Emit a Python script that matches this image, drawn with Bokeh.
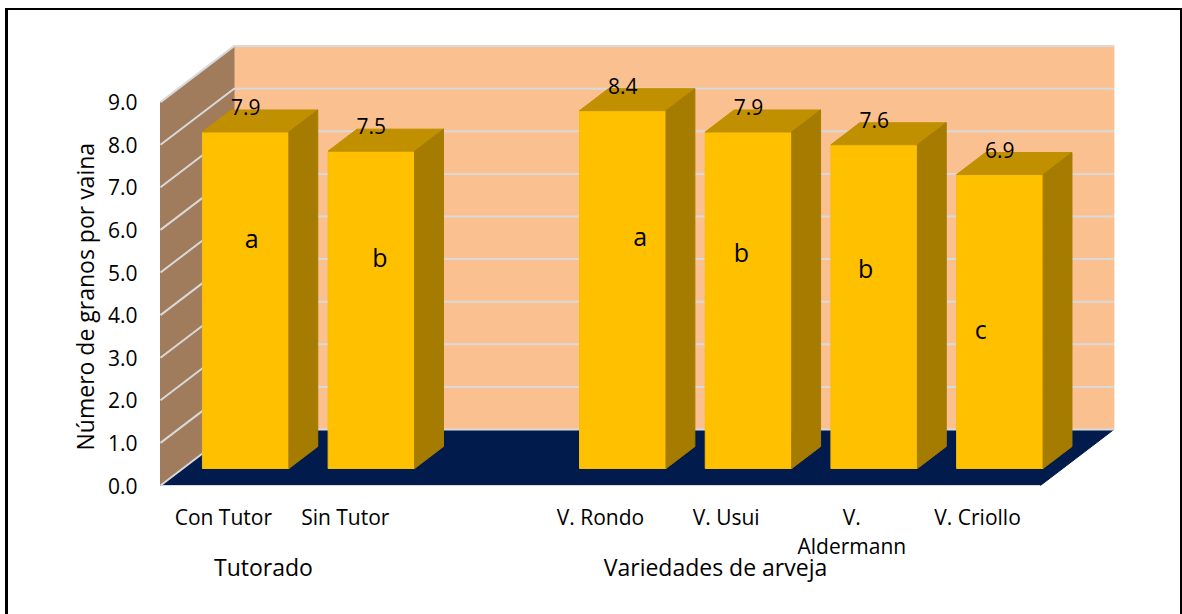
from bokeh.plotting import figure
from bokeh.embed import file_html
from bokeh.resources import INLINE
from bokeh.models import ColumnDataSource, FixedTicker, Range1d, LinearAxis, Title

categories = ["Con Tutor", "Sin Tutor", "V. Rondo", "V. Usui", "V.\nAldermann", "V. Criollo"]
category_slots = [0, 1, 3, 4, 5, 6]
values = [7.9, 7.45, 8.4, 7.9, 7.6, 6.9]
value_labels = ["7.9", "7.5", "8.4", "7.9", "7.6", "6.9"]
letters = ["a", "b", "a", "b", "b", "c"]
y_ticks = [0, 1, 2, 3, 4, 5, 6, 7, 8, 9]
groups = ["Tutorado", "Variedades de arveja"]
y_title = "Número de granos por vaina"

FONT = "Open Sans"
# layout, in pixels
ORG_X, ORG_Y = 8, 10
CW, CH = 1172, 604
X0, Y0 = 160, 485
SLOT_PX, UNIT_PX = 125.7, 42.6
SLOTS = 7
DX_PX, DY_PX = 73.5, 56
F_TOP, B_TOP = 44, 487
F_LEFT, F_RIGHT = 158, 1116
DEPTH_X = DX_PX / SLOT_PX
DEPTH_V = DY_PX / UNIT_PX
BAR_FRONT, BAR_BACK = 17 / 56, 39 / 56
HALF = 0.344
GROUP_CENTRES_PX = [263, 715]


def px(x, v, d):
    return x + d * DEPTH_X, v + d * DEPTH_V


p = figure(
    width=CW, height=CH, output_backend="svg", toolbar_location=None,
    frame_width=F_RIGHT - F_LEFT, frame_height=B_TOP - F_TOP,
    x_range=Range1d((F_LEFT - X0) / SLOT_PX, (F_RIGHT - X0) / SLOT_PX),
    y_range=Range1d((Y0 - B_TOP) / UNIT_PX, (Y0 - F_TOP) / UNIT_PX),
    min_border_left=F_LEFT - ORG_X, min_border_right=ORG_X + CW - F_RIGHT,
    min_border_top=F_TOP - ORG_Y, min_border_bottom=ORG_Y + CH - B_TOP,
    margin=(8, 0, 0, 5),
    styles={"border-left": "3px solid #000", "border-top": "2px solid #000",
            "border-right": "2px solid #000", "box-sizing": "content-box"},
)
p.outline_line_color = None
p.grid.visible = False
p.background_fill_color = None


def poly(pts, color, line=None):
    xs, ys = zip(*[px(*q) for q in pts])
    p.patch(list(xs), list(ys), fill_color=color, line_color=line or color, line_width=1)


TOP = y_ticks[-1]
poly([(0, 0, 1), (SLOTS, 0, 1), (SLOTS, TOP, 1), (0, TOP, 1)], "#FBC08F")
poly([(0, 0, 0), (0, 0, 1), (0, TOP, 1), (0, TOP, 0)], "#A07C5C")
poly([(0, 0, 0), (SLOTS, 0, 0), (SLOTS, 0, 1), (0, 0, 1)], "#001B4C")

for t in y_ticks:
    a = px(0, t, 0)
    b = px(0, t, 1)
    c = px(SLOTS, t, 1)
    p.line([a[0], b[0], c[0]], [a[1], b[1], c[1]], line_color="#D9D9D9", line_width=2)
a = px(0, 0, 0)
b = px(SLOTS, 0, 0)
p.line([a[0], b[0]], [a[1], b[1]], line_color="#D9D9D9", line_width=1)

label_rows = {"x": [], "y": [], "t": []}
letter_dx = [6, 8.5, 17.5, -7, -8.5, -19]
letter_dy = [106.5, 105.5, 125.5, 120.5, 123.5, 154.5]
letter_rows = {"x": [], "y": [], "t": [], "dx": [], "dy": []}
for slot, v, vl, lab, ldx, ldy in zip(category_slots, values, value_labels, letters, letter_dx, letter_dy):
    c = slot + 0.5
    l, r = c - HALF, c + HALF
    poly([(l, 0, BAR_FRONT), (r, 0, BAR_FRONT), (r, v, BAR_FRONT), (l, v, BAR_FRONT)], "#FFC000", "#F5BC0A")
    poly([(l, v, BAR_FRONT), (r, v, BAR_FRONT), (r, v, BAR_BACK), (l, v, BAR_BACK)], "#C09000")
    poly([(r, 0, BAR_FRONT), (r, 0, BAR_BACK), (r, v, BAR_BACK), (r, v, BAR_FRONT)], "#A67C00")
    mx, my = px(c, v, BAR_FRONT)
    _, ty = px(c, v, BAR_BACK)
    label_rows["x"].append(mx)
    label_rows["y"].append(ty)
    label_rows["t"].append(vl)
    letter_rows["x"].append(mx)
    letter_rows["y"].append(my)
    letter_rows["t"].append(lab)
    letter_rows["dx"].append(ldx)
    letter_rows["dy"].append(ldy)

p.text("x", "y", text="t", source=ColumnDataSource(label_rows), text_font={"value": FONT},
       text_font_size="21px", text_align="center", text_baseline="middle",
       x_offset=0, y_offset=-3, text_color="#000000")
p.text("x", "y", text="t", source=ColumnDataSource(letter_rows), text_font={"value": FONT},
       text_font_size="25px", text_align="center", text_baseline="middle",
       x_offset="dx", y_offset="dy", text_color="#000000")


def style_axis(ax, size, standoff):
    ax.axis_line_color = None
    ax.major_tick_line_color = None
    ax.minor_tick_line_color = None
    ax.major_label_text_font = FONT
    ax.major_label_text_font_size = size
    ax.major_label_text_color = "#000000"
    ax.major_label_standoff = standoff


ya = p.yaxis[0]
ya.ticker = FixedTicker(ticks=y_ticks)
ya.major_label_overrides = {t: f"{t:.1f}" for t in y_ticks}
style_axis(ya, "21px", 15)

tick_pos = [s + 0.5 for s in category_slots]
tick_pos[1] -= 0.03
xa = p.xaxis[0]
xa.ticker = FixedTicker(ticks=tick_pos)
xa.major_label_overrides = {t: c for t, c in zip(tick_pos, categories)}
style_axis(xa, "21px", 9)
xa.major_label_text_line_height = 1.04

group_pos = [(g - X0) / SLOT_PX for g in GROUP_CENTRES_PX]
ga = LinearAxis(ticker=FixedTicker(ticks=group_pos),
                major_label_overrides={t: g for t, g in zip(group_pos, groups)})
style_axis(ga, "23px", -18)
p.add_layout(ga, "below")

p.add_layout(Title(text=y_title, align="left", offset=37, standoff=8, text_font=FONT,
                   text_font_size="23px", text_font_style="normal", text_color="#000000"), "left")

open("out.html", "w").write(file_html(p, INLINE))
